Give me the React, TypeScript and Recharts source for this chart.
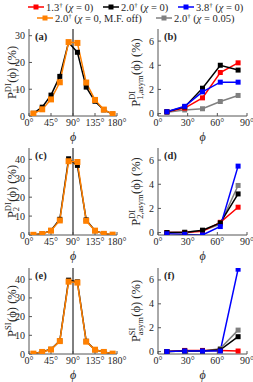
import React from 'react';
import { LineChart, Line, XAxis, YAxis, ReferenceLine } from 'recharts';

const FONT = '"Liberation Serif", "Times New Roman", serif';
const INK = '#262626';

const phiFull = [9, 27, 45, 63, 81, 99, 117, 135, 153, 171];
const phiHalf = [9, 27, 45, 63, 81];

// (a) P1 DI
const p1DiBlack = [1.0, 3.3, 7.8, 14.8, 27.5, 23.8, 10.8, 5.5, 2.3, 0.7];
const p1DiOrange = [0.9, 2.5, 6.2, 12.6, 27.6, 27.3, 12.5, 6.0, 2.4, 0.7];
// (b) P1 DI asym
const a1Red = [0.15, 0.45, 1.3, 3.4, 4.2];
const a1Black = [0.15, 0.55, 2.1, 4.0, 3.6];
const a1Blue = [0.15, 0.6, 1.8, 2.6, 2.6];
const a1Gray = [0.1, 0.3, 0.4, 1.0, 1.5];
// (c) P2 DI
const p2DiBlack = [0.1, 0.6, 2.4, 8.3, 40.3, 36.8, 8.0, 2.3, 0.7, 0.2];
const p2DiOrange = [0.1, 0.5, 2.3, 7.7, 39.0, 38.6, 7.5, 2.3, 0.6, 0.2];
// (d) P2 DI asym
const a2Red = [0.0, 0.0, 0.1, 0.85, 2.1];
const a2Black = [0.0, 0.0, 0.2, 0.8, 3.2];
const a2Blue = [-0.1, -0.15, -0.2, 0.5, 5.5];
const a2Gray = [0.0, 0.05, 0.15, 0.7, 3.9];
// (e) P SI
const pSiBlack = [0.2, 1.2, 2.5, 7.0, 39.5, 38.6, 6.8, 2.3, 1.1, 0.2];
const pSiOrange = [0.2, 1.1, 2.4, 6.9, 38.7, 38.2, 6.6, 2.3, 1.1, 0.2];
// (f) P SI asym
const asRed = [0.0, 0.1, 0.1, 0.1, 0.05];
const asBlack = [0.0, 0.05, 0.05, 0.15, 1.25];
const asBlue = [0.0, 0.05, 0.05, 0.05, 6.9];
const asGray = [0.0, 0.05, 0.05, 0.25, 1.8];

const fullTicks = [0, 45, 90, 135, 180];
const halfTicks = [0, 30, 60, 90];
const asymTicks = [0, 2, 4, 6];

const RED = '#ff0000';
const BLACK = '#000000';
const BLUE = '#0000ff';
const ORANGE = '#ff8000';
const GRAY = '#808080';

const legendRows = [
  [
    { color: RED, num: '1.3', rest: '= 0)', x: 28 },
    { color: BLACK, num: '2.0', rest: '= 0)', x: 103 },
    { color: BLUE, num: '3.8', rest: '= 0)', x: 178 },
  ],
  [
    { color: ORANGE, num: '2.0', rest: '= 0,  M.F. off)', x: 37 },
    { color: GRAY, num: '2.0', rest: '= 0.05)', x: 156 },
  ],
];

const rows = (phis: number[], cols: Record<string, number[]>) =>
  phis.map((phi, i) => {
    const r: Record<string, number> = { phi };
    Object.keys(cols).forEach((k) => (r[k] = cols[k][i]));
    return r;
  });

let ctx: CanvasRenderingContext2D | null = null;
const measure = (s: string, size: number) => {
  if (!ctx) ctx = document.createElement('canvas').getContext('2d');
  if (!ctx) return s.length * size * 0.5;
  ctx.font = `${size}px ${FONT}`;
  return ctx.measureText(s).width;
};

const YLabel = ({ viewBox, sup, sub, bx }: any) => {
  const fs = 12.5;
  const ss = 8.5;
  const rest = '(ϕ) (%)';
  const pW = measure('P', fs);
  const sW = Math.max(measure(sup, ss), measure(sub, ss));
  const total = pW + sW + 0.5 + measure(rest, fs);
  const x0 = -total / 2;
  const cx = viewBox.x + bx;
  const cy = viewBox.y + viewBox.height / 2;
  return (
    <g transform={`translate(${cx},${cy}) rotate(-90)`} fill={INK} fontFamily={FONT}>
      <text x={x0} y={0} fontSize={fs}>P</text>
      <text x={x0 + pW} y={-5} fontSize={ss}>{sup}</text>
      <text x={x0 + pW} y={3} fontSize={ss}>{sub}</text>
      <text x={x0 + pW + sW + 0.5} y={0} fontSize={fs}>{rest}</text>
    </g>
  );
};

const XLabel = ({ viewBox }: any) => (
  <text
    x={viewBox.x + viewBox.width / 2}
    y={viewBox.y + 25}
    textAnchor="middle"
    fontSize={12}
    fontStyle="italic"
    fontFamily={FONT}
    fill={INK}
  >
    ϕ
  </text>
);

interface SeriesDef {
  key: string;
  color: string;
  size: number;
}

interface PanelProps {
  left: number;
  top: number;
  plotW: number;
  plotH: number;
  ml: number;
  mr: number;
  bx: number;
  data: Record<string, number>[];
  xMax: number;
  xTicks: number[];
  yDomain: [number, number];
  yTicks: number[];
  series: SeriesDef[];
  sup: string;
  sub: string;
  letter: string;
  midline?: boolean;
}

const Panel = (p: PanelProps) => {
  const mt = 6;
  const mb = 32;
  const tickStyle = { fontSize: 10, fill: INK, fontFamily: FONT };
  return (
    <div style={{ position: 'absolute', left: p.left - p.ml, top: p.top - mt }}>
      <LineChart
        width={p.ml + p.plotW + p.mr}
        height={mt + p.plotH + mb}
        data={p.data}
        margin={{ top: mt, right: p.mr, left: 0, bottom: 0 }}
      >
        <XAxis
          dataKey="phi"
          type="number"
          domain={[0, p.xMax]}
          ticks={p.xTicks}
          interval={0}
          tickFormatter={(v) => `${v}°`}
          height={mb}
          tick={tickStyle}
          tickSize={-3}
          tickMargin={6}
          stroke="#555555"
          label={<XLabel />}
        />
        <XAxis
          xAxisId="t"
          orientation="top"
          dataKey="phi"
          type="number"
          domain={[0, p.xMax]}
          ticks={p.xTicks}
          height={0}
          tick={false}
          tickSize={-3}
          stroke="#bdbdbd"
        />
        <YAxis
          type="number"
          domain={p.yDomain}
          ticks={p.yTicks}
          interval={0}
          allowDataOverflow
          width={p.ml}
          tick={tickStyle}
          tickSize={-3}
          tickMargin={7}
          stroke="#555555"
          label={<YLabel sup={p.sup} sub={p.sub} bx={p.bx} />}
        />
        <YAxis
          yAxisId="r"
          orientation="right"
          type="number"
          domain={p.yDomain}
          ticks={p.yTicks}
          width={0}
          tick={false}
          tickSize={-3}
          stroke="#bdbdbd"
        />
        {p.midline && <ReferenceLine x={90} stroke={BLACK} strokeWidth={1} />}
        {p.series.map((s) => (
          <Line
            key={s.key}
            dataKey={s.key}
            stroke={s.color}
            strokeWidth={1.5}
            isAnimationActive={false}
            dot={(d: any) => (
              <rect
                key={`${s.key}-${d.index}`}
                x={d.cx - s.size / 2}
                y={d.cy - s.size / 2}
                width={s.size}
                height={s.size}
                fill={s.color}
              />
            )}
            activeDot={false}
          />
        ))}
      </LineChart>
      <div
        style={{
          position: 'absolute',
          left: p.ml + 6,
          top: mt + 2,
          fontFamily: FONT,
          fontWeight: 'bold',
          fontSize: 10.5,
          color: INK,
        }}
      >
        {p.letter}
      </div>
    </div>
  );
};

const fullSeries: SeriesDef[] = [
  { key: 'black', color: BLACK, size: 5 },
  { key: 'orange', color: ORANGE, size: 6 },
];
const halfSeries: SeriesDef[] = [
  { key: 'gray', color: GRAY, size: 5 },
  { key: 'red', color: RED, size: 5 },
  { key: 'black', color: BLACK, size: 5 },
  { key: 'blue', color: BLUE, size: 5 },
];

const Legend = () => (
  <svg width={253} height={28} style={{ position: 'absolute', left: 0, top: 0 }} fontFamily={FONT}>
    {legendRows.map((row, ri) =>
      row.map((it, i) => {
        const y = ri === 0 ? 7 : 18;
        return (
          <g key={`${ri}-${i}`}>
            <line x1={it.x} x2={it.x + 16} y1={y} y2={y} stroke={it.color} strokeWidth={1.5} />
            <rect x={it.x + 5.5} y={y - 2.5} width={5} height={5} fill={it.color} />
            <text x={it.x + 18} y={y + 3.5} fontSize={10.5} fill={INK}>
              {it.num}
              <tspan dy={-3.5} fontSize={7}>†</tspan>
              <tspan dy={3.5}> (</tspan>
              <tspan fontStyle="italic">χ</tspan>
              <tspan> {it.rest}</tspan>
            </text>
          </g>
        );
      })
    )}
  </svg>
);

export default function App() {
  return (
    <div style={{ position: 'absolute', left: 0, top: 0, width: 253, height: 382, background: '#fff' }}>
      <Legend />
      <Panel
        left={29} top={29} plotW={88} plotH={87} ml={29} mr={12} bx={16}
        data={rows(phiFull, { black: p1DiBlack, orange: p1DiOrange })}
        xMax={180} xTicks={fullTicks} yDomain={[0, 32.5]} yTicks={[0, 10, 20, 30]}
        series={fullSeries} sup="DI" sub="1" letter="(a)" midline
      />
      <Panel
        left={158} top={29} plotW={89} plotH={87} ml={30} mr={6} bx={12}
        data={rows(phiHalf, { red: a1Red, black: a1Black, blue: a1Blue, gray: a1Gray })}
        xMax={90} xTicks={halfTicks} yDomain={[-0.2, 7]} yTicks={asymTicks}
        series={halfSeries} sup="DI" sub="1,asym" letter="(b)"
      />
      <Panel
        left={29} top={148} plotW={88} plotH={87} ml={29} mr={12} bx={16}
        data={rows(phiFull, { black: p2DiBlack, orange: p2DiOrange })}
        xMax={180} xTicks={fullTicks} yDomain={[0, 46]} yTicks={[0, 10, 20, 30, 40]}
        series={fullSeries} sup="DI" sub="2" letter="(c)" midline
      />
      <Panel
        left={158} top={148} plotW={89} plotH={87} ml={30} mr={6} bx={12}
        data={rows(phiHalf, { red: a2Red, black: a2Black, blue: a2Blue, gray: a2Gray })}
        xMax={90} xTicks={halfTicks} yDomain={[-0.2, 7]} yTicks={asymTicks}
        series={halfSeries} sup="DI" sub="2,asym" letter="(d)"
      />
      <Panel
        left={29} top={268} plotW={88} plotH={86} ml={29} mr={12} bx={16}
        data={rows(phiFull, { black: pSiBlack, orange: pSiOrange })}
        xMax={180} xTicks={fullTicks} yDomain={[0, 46]} yTicks={[0, 10, 20, 30, 40]}
        series={fullSeries} sup="SI" sub="" letter="(e)" midline
      />
      <Panel
        left={158} top={268} plotW={89} plotH={86} ml={30} mr={6} bx={12}
        data={rows(phiHalf, { red: asRed, black: asBlack, blue: asBlue, gray: asGray })}
        xMax={90} xTicks={halfTicks} yDomain={[-0.2, 7]} yTicks={asymTicks}
        series={halfSeries} sup="SI" sub="asym" letter="(f)"
      />
    </div>
  );
}
